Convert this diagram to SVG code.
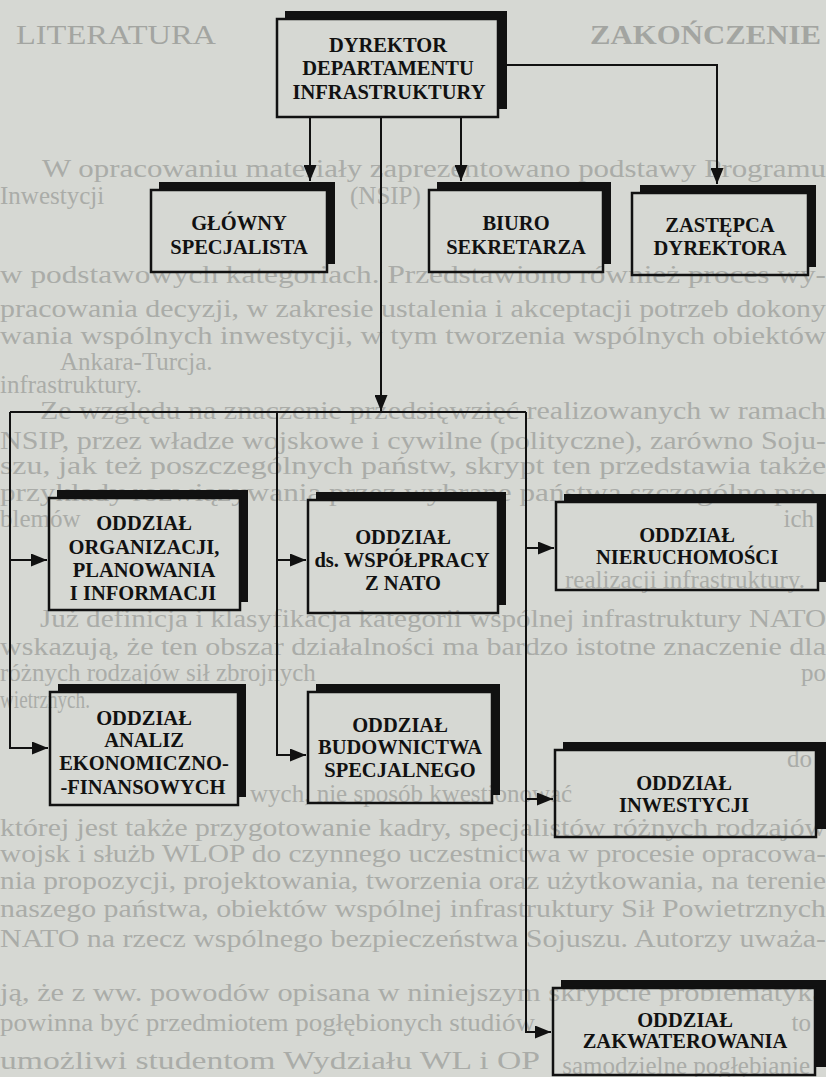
<svg xmlns="http://www.w3.org/2000/svg" width="826" height="1077" viewBox="0 0 826 1077">
<style>
.bt{font-family:"Liberation Serif","Times New Roman",serif;font-size:25px;fill:#aaaca8}
.be{text-anchor:end}
.hd{font-family:"Liberation Serif","Times New Roman",serif;font-size:28px;fill:#a3a5a1}
.sh{fill:#111}
.fr{fill:none;stroke:#111;stroke-width:2.5}
.lb{font-family:"Liberation Serif","Times New Roman",serif;font-weight:bold;font-size:20.5px;fill:#111;text-anchor:middle}
.cn{fill:none;stroke:#111;stroke-width:2}
</style>
<defs>
<marker id="ah" markerUnits="userSpaceOnUse" viewBox="0 0 16 13" markerWidth="16" markerHeight="13" refX="16" refY="6.5" orient="auto">
<path d="M0,0 L16,6.5 L0,13 z" fill="#111"/>
</marker>
</defs>
<rect x="0" y="0" width="826" height="1077" fill="#d6d8d3"/>
<g id="background-text">
<text class="hd" x="16" y="44" textLength="200" lengthAdjust="spacingAndGlyphs">LITERATURA</text>
<text class="hd" x="590" y="44" textLength="231" lengthAdjust="spacingAndGlyphs" font-weight="bold">ZAKOŃCZENIE</text>
<text class="bt" x="42" y="177" textLength="784" lengthAdjust="spacingAndGlyphs">W opracowaniu materiały zaprezentowano podstawy Programu</text>
<text class="bt" x="0" y="204">Inwestycji</text>
<text class="bt" x="350" y="204">(NSIP)</text>
<text class="bt" x="0" y="283" textLength="826" lengthAdjust="spacingAndGlyphs">w podstawowych kategoriach. Przedstawiono również proces wy-</text>
<text class="bt" x="0" y="317" textLength="826" lengthAdjust="spacingAndGlyphs">pracowania decyzji, w zakresie ustalenia i akceptacji potrzeb dokony</text>
<text class="bt" x="0" y="344" textLength="826" lengthAdjust="spacingAndGlyphs">wania wspólnych inwestycji, w tym tworzenia wspólnych obiektów</text>
<text class="bt" x="60" y="370" font-size="14">Ankara-Turcja.</text>
<text class="bt" x="0" y="393">infrastruktury.</text>
<text class="bt" x="40" y="419" textLength="786" lengthAdjust="spacingAndGlyphs">Ze względu na znaczenie przedsięwzięć realizowanych w ramach</text>
<text class="bt" x="0" y="449" textLength="826" lengthAdjust="spacingAndGlyphs">NSIP, przez władze wojskowe i cywilne (polityczne), zarówno Soju-</text>
<text class="bt" x="0" y="474" textLength="826" lengthAdjust="spacingAndGlyphs">szu, jak też poszczególnych państw, skrypt ten przedstawia także</text>
<text class="bt" x="0" y="501" textLength="826" lengthAdjust="spacingAndGlyphs">przykłady rozwiązywania przez wybrane państwa szczególne pro-</text>
<text class="bt" x="0" y="527">blemów</text>
<text class="bt be" x="814" y="527">ich</text>
<text class="bt" x="565" y="588">realizacji infrastruktury.</text>
<text class="bt" x="40" y="627" textLength="786" lengthAdjust="spacingAndGlyphs">Już definicja i klasyfikacja kategorii wspólnej infrastruktury NATO</text>
<text class="bt" x="0" y="655" textLength="826" lengthAdjust="spacingAndGlyphs">wskazują, że ten obszar działalności ma bardzo istotne znaczenie dla</text>
<text class="bt" x="0" y="681">różnych rodzajów sił zbrojnych</text>
<text class="bt be" x="826" y="681">po</text>
<text class="bt" x="0" y="708" font-size="21" textLength="90" lengthAdjust="spacingAndGlyphs">wietrznych.</text>
<text class="bt be" x="812" y="767">do</text>
<text class="bt" x="250" y="802">wych, nie sposób kwestionować</text>
<text class="bt" x="0" y="836" textLength="826" lengthAdjust="spacingAndGlyphs">której jest także przygotowanie kadry, specjalistów różnych rodzajów</text>
<text class="bt" x="0" y="862" textLength="826" lengthAdjust="spacingAndGlyphs">wojsk i służb WLOP do czynnego uczestnictwa w procesie opracowa-</text>
<text class="bt" x="0" y="889" textLength="826" lengthAdjust="spacingAndGlyphs">nia propozycji, projektowania, tworzenia oraz użytkowania, na terenie</text>
<text class="bt" x="0" y="917" textLength="826" lengthAdjust="spacingAndGlyphs">naszego państwa, obiektów wspólnej infrastruktury Sił Powietrznych</text>
<text class="bt" x="0" y="947" textLength="826" lengthAdjust="spacingAndGlyphs">NATO na rzecz wspólnego bezpieczeństwa Sojuszu. Autorzy uważa-</text>
<text class="bt" x="0" y="1001" textLength="826" lengthAdjust="spacingAndGlyphs">ją, że z ww. powodów opisana w niniejszym skrypcie problematyka</text>
<text class="bt" x="0" y="1031" textLength="540" lengthAdjust="spacingAndGlyphs">powinna być przedmiotem pogłębionych studiów.</text>
<text class="bt be" x="811" y="1031">to</text>
<text class="bt" x="0" y="1069" font-size="24" textLength="540" lengthAdjust="spacingAndGlyphs">umożliwi studentom Wydziału WL i OP</text>
<text class="bt be" x="810" y="1074" font-size="14">samodzielne pogłębianie</text>
</g>
<g id="connectors">
<path class="cn" d="M310,118 V181" marker-end="url(#ah)"/>
<path class="cn" d="M381,118 V411" marker-end="url(#ah)"/>
<path class="cn" d="M461,118 V181" marker-end="url(#ah)"/>
<path class="cn" d="M507,65 H717 V184" marker-end="url(#ah)"/>
<path class="cn" d="M10,412 H526"/>
<path class="cn" d="M10,412 V748 H48" marker-end="url(#ah)"/>
<path class="cn" d="M10,560 H47" marker-end="url(#ah)"/>
<path class="cn" d="M277,412 V755 H306" marker-end="url(#ah)"/>
<path class="cn" d="M277,560 H306" marker-end="url(#ah)"/>
<path class="cn" d="M526,412 V1032 H551" marker-end="url(#ah)"/>
<path class="cn" d="M526,548 H554" marker-end="url(#ah)"/>
<path class="cn" d="M526,799 H553" marker-end="url(#ah)"/>
</g>
<g id="dyrektor">
<path class="sh" d="M285,11 H507 V109 H498 V19 H285 Z"/>
<rect class="fr" x="277" y="19" width="221" height="98"/>
<text class="lb" x="388" y="52">DYREKTOR</text>
<text class="lb" x="388" y="75">DEPARTAMENTU</text>
<text class="lb" x="389" y="99">INFRASTRUKTURY</text>
</g>
<g id="glowny">
<path class="sh" d="M159,182 H335 V264 H327 V190 H159 Z"/>
<rect class="fr" x="151" y="190" width="176" height="82"/>
<text class="lb" x="239" y="230">GŁÓWNY</text>
<text class="lb" x="239" y="254">SPECJALISTA</text>
</g>
<g id="biuro">
<path class="sh" d="M437,182 H611 V264 H603 V190 H437 Z"/>
<rect class="fr" x="429" y="190" width="174" height="82"/>
<text class="lb" x="516" y="230">BIURO</text>
<text class="lb" x="516" y="254">SEKRETARZA</text>
</g>
<g id="zastepca">
<path class="sh" d="M640,185 H816 V267 H808 V193 H640 Z"/>
<rect class="fr" x="632" y="193" width="176" height="82"/>
<text class="lb" x="720" y="232">ZASTĘPCA</text>
<text class="lb" x="720" y="255">DYREKTORA</text>
</g>
<g id="organizacji">
<path class="sh" d="M57,490 H248 V602 H240 V498 H57 Z"/>
<rect class="fr" x="49" y="498" width="191" height="112"/>
<text class="lb" x="144" y="530">ODDZIAŁ</text>
<text class="lb" x="144" y="554">ORGANIZACJI,</text>
<text class="lb" x="144" y="577">PLANOWANIA</text>
<text class="lb" x="143" y="600">I INFORMACJI</text>
</g>
<g id="wspolpracy">
<path class="sh" d="M316,492 H506 V605 H498 V500 H316 Z"/>
<rect class="fr" x="308" y="500" width="190" height="113"/>
<text class="lb" x="403" y="544">ODDZIAŁ</text>
<text class="lb" x="402" y="567">ds. WSPÓŁPRACY</text>
<text class="lb" x="403" y="590">Z NATO</text>
</g>
<g id="nieruchomosci">
<path class="sh" d="M564,494 H826 V582 H818 V502 H564 Z"/>
<rect class="fr" x="556" y="502" width="262" height="88"/>
<text class="lb" x="687" y="542">ODDZIAŁ</text>
<text class="lb" x="687" y="564">NIERUCHOMOŚCI</text>
</g>
<g id="analiz">
<path class="sh" d="M58,684 H246 V797 H238 V692 H58 Z"/>
<rect class="fr" x="50" y="692" width="188" height="113"/>
<text class="lb" x="144" y="725">ODDZIAŁ</text>
<text class="lb" x="144" y="747">ANALIZ</text>
<text class="lb" x="144" y="770">EKONOMICZNO-</text>
<text class="lb" x="143" y="794">-FINANSOWYCH</text>
</g>
<g id="budownictwa">
<path class="sh" d="M316,684 H500 V795 H492 V692 H316 Z"/>
<rect class="fr" x="308" y="692" width="184" height="111"/>
<text class="lb" x="400" y="732">ODDZIAŁ</text>
<text class="lb" x="400" y="754">BUDOWNICTWA</text>
<text class="lb" x="400" y="777">SPECJALNEGO</text>
</g>
<g id="inwestycji">
<path class="sh" d="M563,742 H826 V829 H816 V750 H563 Z"/>
<rect class="fr" x="555" y="750" width="261" height="87"/>
<text class="lb" x="684" y="790">ODDZIAŁ</text>
<text class="lb" x="684" y="812">INWESTYCJI</text>
</g>
<g id="zakwaterowania">
<path class="sh" d="M561,980 H826 V1067 H815 V988 H561 Z"/>
<rect class="fr" x="553" y="988" width="262" height="87"/>
<text class="lb" x="685" y="1027">ODDZIAŁ</text>
<text class="lb" x="685" y="1048">ZAKWATEROWANIA</text>
</g>
</svg>
